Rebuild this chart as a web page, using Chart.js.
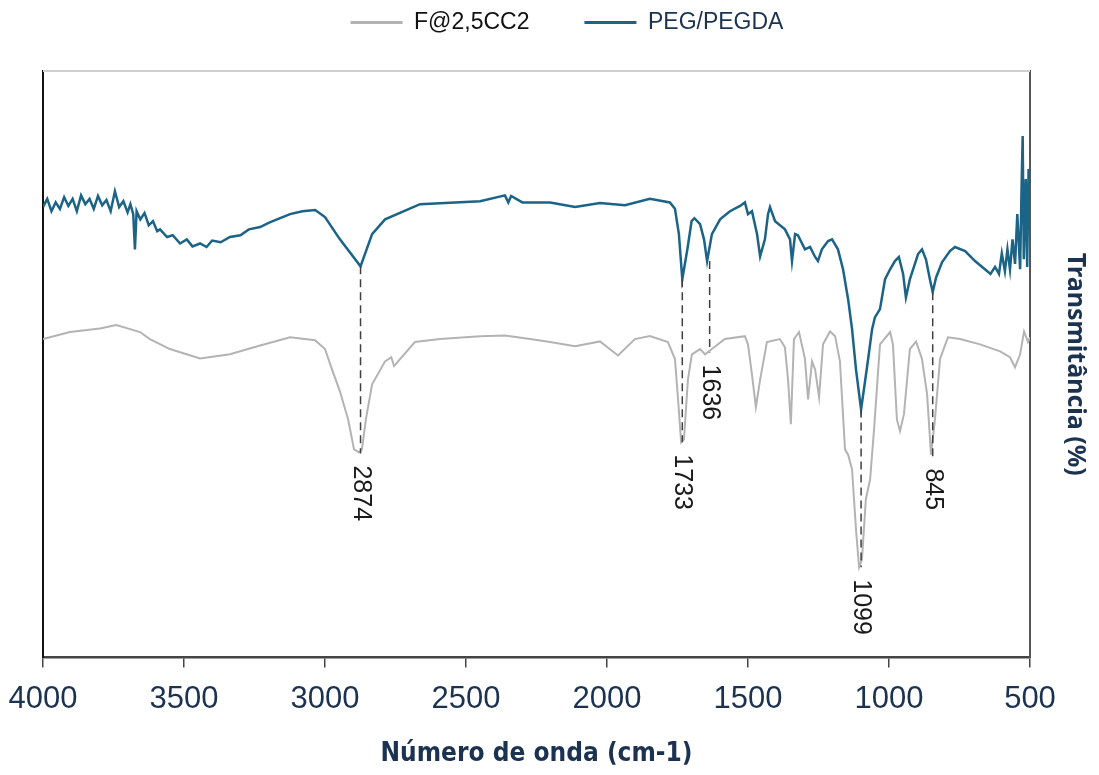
<!DOCTYPE html>
<html>
<head>
<meta charset="utf-8">
<script src="https://cdn.jsdelivr.net/npm/chart.js@4/dist/chart.umd.min.js"></script>
<style>
  body { margin: 0; background: #fff; }
  #wrap { width: 1099px; height: 775px; }
</style>
</head>
<body>
<div id="wrap"><canvas id="ftir" width="1099" height="775"></canvas></div>
<script>
// wavenumbers (cm-1) and transmittance readings
const pegWave = [4000,3985,3970,3955,3940,3925,3910,3895,3880,3865,3850,3835,3820,3805,3790,3775,3760,3745,3730,3715,3700,3690,3680,3674,3668,3655,3640,3625,3610,3595,3585,3560,3540,3514,3490,3470,3443,3420,3400,3370,3337,3300,3270,3230,3200,3170,3124,3080,3035,3000,2947,2874,2833,2787,2663,2450,2362,2350,2340,2300,2202,2113,2025,1936,1848,1777,1759,1745,1733,1715,1700,1690,1670,1656,1645,1628,1599,1564,1528,1511,1500,1486,1468,1457,1440,1429,1422,1404,1369,1351,1344,1333,1323,1298,1280,1262,1252,1238,1216,1202,1181,1163,1145,1131,1117,1099,1089,1074,1060,1050,1032,1014,996,979,965,950,940,926,897,883,869,855,845,833,812,784,766,730,695,660,640,624,610,600,589,580,571,562,553,545,535,530,526,522,515,510,505,500];
const pegT = [76.8,78.2,76.1,77.6,76.5,78.5,77.0,78.2,76.1,78.8,77.3,78.2,76.5,78.7,77.1,78.0,76.1,79.5,76.8,77.8,75.9,77.3,75.6,69.6,76.1,74.7,75.8,73.7,74.4,72.7,73.0,71.7,72.0,70.6,71.3,70.1,70.6,70.0,71.1,70.8,71.7,72.0,73.0,73.4,74.1,74.7,75.6,76.1,76.3,75.1,71.3,66.7,72.2,74.7,77.3,77.8,78.8,77.6,78.7,77.6,77.6,76.8,77.5,77.1,78.2,77.6,76.5,72.2,64.5,69.6,74.4,74.9,73.9,71.3,67.6,72.2,74.7,76.1,77.0,77.6,75.6,76.1,72.2,68.4,71.3,75.6,76.8,74.4,73.0,71.3,67.6,72.2,72.0,69.6,70.0,68.3,67.6,69.6,71.0,71.3,69.6,66.2,61.1,56.0,49.1,42.3,45.7,50.9,56.0,58.0,59.4,64.5,66.2,67.6,68.3,65.4,61.4,64.5,68.8,69.6,67.9,64.5,62.3,64.8,67.4,69.3,70.0,69.3,67.6,66.2,65.4,66.6,65.4,68.9,65.9,69.6,66.2,71.3,67.1,75.6,66.2,79.9,88.9,67.9,81.6,66.6,83.3,78.2];

const fWave = [4000,3904,3798,3740,3691,3656,3621,3550,3443,3337,3230,3124,3035,3000,2975,2947,2918,2897,2880,2869,2855,2833,2787,2765,2755,2734,2681,2592,2450,2362,2273,2202,2113,2025,1961,1901,1848,1784,1759,1748,1737,1727,1713,1699,1670,1652,1628,1582,1511,1500,1486,1472,1457,1433,1387,1369,1358,1348,1337,1319,1298,1287,1273,1262,1248,1234,1209,1191,1174,1156,1145,1131,1117,1106,1096,1082,1067,1053,1032,996,986,972,961,947,926,904,883,865,851,837,819,791,748,677,606,571,553,535,521,507,500];
const fT = [54.3,55.5,56.1,56.7,56.0,55.5,54.3,52.6,51.0,51.7,53.2,54.6,54.1,52.6,49.1,45.4,40.6,35.5,35.0,35.5,40.6,46.6,50.5,51.2,49.7,50.9,53.8,54.3,54.8,54.9,54.3,53.8,53.1,53.9,51.5,54.3,54.8,53.8,50.9,44.0,36.7,37.2,47.4,51.7,52.6,51.7,52.6,54.3,54.8,53.4,48.3,42.7,47.4,53.8,54.3,52.9,47.4,39.8,54.3,55.5,50.9,44.0,50.5,49.1,44.4,53.4,55.6,54.8,50.5,35.5,34.6,32.1,21.8,15.4,16.7,27.0,30.4,38.9,53.4,55.5,53.4,40.6,38.6,41.5,52.6,53.9,50.9,44.9,34.6,40.6,50.9,54.6,54.3,53.4,52.2,51.2,49.5,51.7,55.6,53.8,54.6];

// marked bands: position, top (PEG/PEGDA) and bottom (F@2,5CC2) of the guide line
const peaks = [2874, 1733, 1636, 1099, 845];
const peakTop = [66.7, 64.5, 67.6, 42.3, 62.3];
const peakBottom = [34.8, 36.7, 52.0, 15.4, 34.3];

const xTicks = [4000, 3500, 3000, 2500, 2000, 1500, 1000, 500];

const navy = '#1b3250';
const sans = 'Arial, "Liberation Sans", sans-serif';

function toXY(w, t) {
  return w.map((v, i) => ({ x: v, y: t[i] }));
}

// keep the legend up at the top and leave the gap down to the frame
const legendGap = {
  id: 'legendGap',
  beforeInit(chart) {
    const fit = chart.legend.fit;
    chart.legend.fit = function () {
      fit.call(this);
      this.height = 115;
    };
  }
};

const peakLines = {
  id: 'peakLines',
  afterDatasetsDraw(chart) {
    const { ctx, scales: { x, y } } = chart;
    ctx.save();
    peaks.forEach((p, i) => {
      const px = x.getPixelForValue(p);
      const y1 = y.getPixelForValue(peakTop[i]);
      const y2 = y.getPixelForValue(peakBottom[i]);
      ctx.strokeStyle = '#404040';
      ctx.lineWidth = 1.5;
      ctx.setLineDash([8, 5]);
      ctx.beginPath();
      ctx.moveTo(px, y1);
      ctx.lineTo(px, y2);
      ctx.stroke();
      ctx.setLineDash([]);
      ctx.translate(px, y2 + 12);
      ctx.rotate(Math.PI / 2);
      ctx.fillStyle = '#1a1a1a';
      ctx.font = '25px ' + sans;
      ctx.textAlign = 'left';
      ctx.textBaseline = 'middle';
      ctx.fillText(String(p), 0, 0);
      ctx.setTransform(1, 0, 0, 1, 0, 0);
    });
    // top edge of the frame
    const a = chart.chartArea;
    ctx.strokeStyle = '#cfcfcf';
    ctx.lineWidth = 2;
    ctx.beginPath();
    ctx.moveTo(a.left, a.top);
    ctx.lineTo(a.right, a.top);
    ctx.stroke();
    ctx.restore();
  }
};

new Chart(document.getElementById('ftir'), {
  type: 'line',
  data: {
    datasets: [
      {
        label: 'F@2,5CC2',
        data: toXY(fWave, fT),
        borderColor: '#b3b3b3',
        backgroundColor: '#b3b3b3',
        borderWidth: 2,
        pointRadius: 0,
        tension: 0
      },
      {
        label: 'PEG/PEGDA',
        data: toXY(pegWave, pegT),
        borderColor: '#1b6387',
        backgroundColor: '#1b6387',
        borderWidth: 2.5,
        pointRadius: 0,
        tension: 0
      }
    ]
  },
  options: {
    responsive: false,
    animation: false,
    layout: { padding: { left: 35, right: 0, top: -44, bottom: 5 } },
    plugins: {
      tooltip: { enabled: false },
      legend: {
        position: 'top',
        labels: {
          boxWidth: 52,
          boxHeight: 3,
          padding: 55,
          font: { family: sans, size: 23 },
          generateLabels(chart) {
            const colors = ['#111111', navy];
            return chart.data.datasets.map((ds, i) => ({
              text: ds.label,
              fillStyle: ds.borderColor,
              strokeStyle: ds.borderColor,
              lineWidth: 0,
              fontColor: colors[i],
              datasetIndex: i
            }));
          }
        }
      }
    },
    scales: {
      x: {
        type: 'linear',
        reverse: true,
        min: 500,
        max: 4000,
        afterBuildTicks(axis) {
          axis.ticks = xTicks.map(v => ({ value: v }));
        },
        afterFit(axis) {
          // the end labels may hang past the frame, like in the original
          axis.paddingLeft = 0;
          axis.paddingRight = 0;
        },
        ticks: {
          color: navy,
          padding: 13,
          maxRotation: 0,
          callback: v => String(v),
          font: { family: sans, size: 31 }
        },
        grid: { drawOnChartArea: false, drawTicks: true, tickLength: 10, color: '#444', lineWidth: 1.5 },
        border: { color: '#444', width: 2.5 },
        title: {
          display: true,
          text: 'Número de onda (cm-1)',
          color: navy,
          padding: { top: 8, bottom: 0 },
          font: { family: '"Liberation Sans Narrow", "DejaVu Sans Condensed", sans-serif', size: 26, weight: 'bold' }
        }
      },
      y: {
        min: 0,
        max: 100,
        ticks: { display: false },
        grid: { display: false },
        border: { color: '#111', width: 2 }
      },
      y2: {
        position: 'right',
        min: 0,
        max: 100,
        ticks: { display: false },
        grid: { display: false },
        border: { color: '#555', width: 2 },
        title: {
          display: true,
          text: 'Transmitância (%)',
          color: navy,
          padding: { top: 9, bottom: 22 },
          font: { family: '"Noto Sans", "Open Sans", sans-serif', size: 25, weight: 'bold' }
        }
      }
    }
  },
  plugins: [legendGap, peakLines]
});
</script>
</body>
</html>
